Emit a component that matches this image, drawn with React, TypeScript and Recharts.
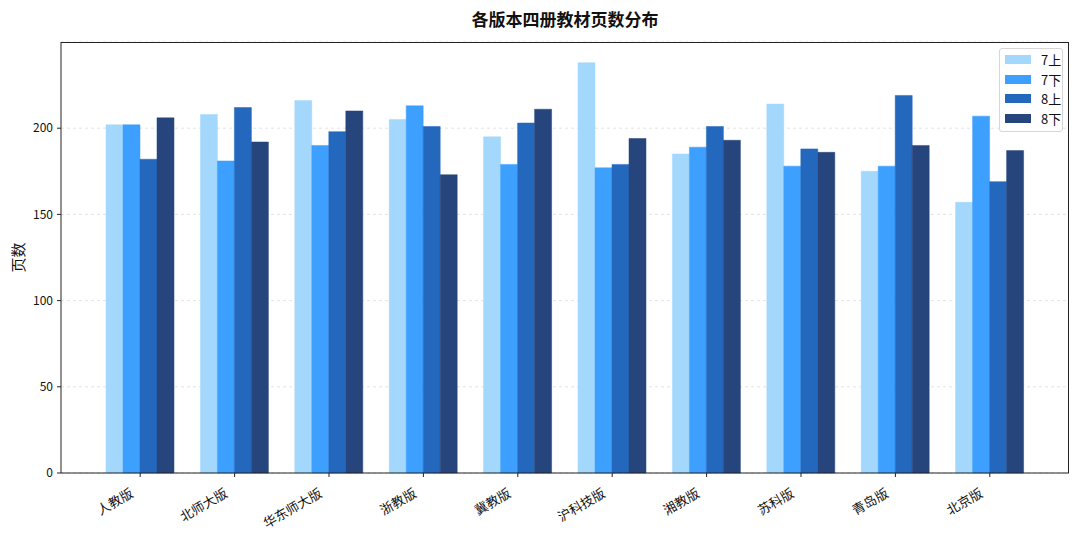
import React from "react";
import { Bar, BarChart, CartesianGrid, XAxis, YAxis } from "recharts";

// 各版本 x 四册 page counts
const EDITIONS = [
  "人教版",
  "北师大版",
  "华东师大版",
  "浙教版",
  "冀教版",
  "沪科技版",
  "湘教版",
  "苏科版",
  "青岛版",
  "北京版",
];

const G7_UP = [202, 208, 216, 205, 195, 238, 185, 214, 175, 157];
const G7_DOWN = [202, 181, 190, 213, 179, 177, 189, 178, 178, 207];
const G8_UP = [182, 212, 198, 201, 203, 179, 201, 188, 219, 169];
const G8_DOWN = [206, 192, 210, 173, 211, 194, 193, 186, 190, 187];

const Y_TICKS = [0, 50, 100, 150, 200];

const SERIES = [
  { key: "g7u", name: "7上", color: "#a3d8fc" },
  { key: "g7d", name: "7下", color: "#3d9ffe" },
  { key: "g8u", name: "8上", color: "#2468be" },
  { key: "g8d", name: "8下", color: "#27457d" },
];

const data = EDITIONS.map((name, i) => ({
  name,
  g7u: G7_UP[i],
  g7d: G7_DOWN[i],
  g8u: G8_UP[i],
  g8d: G8_DOWN[i],
}));

const FONT = '"Noto Sans CJK SC", "Noto Sans", sans-serif';

function EditionTick({ x, y, payload }: any) {
  return (
    <g transform={`translate(${x - 6},${y + 17})`}>
      <text
        textAnchor="end"
        transform="rotate(-30)"
        fontSize={13}
        fill="#111"
        fontFamily={FONT}
      >
        {payload.value}
      </text>
    </g>
  );
}

export default function App() {
  return (
    <div
      style={{
        position: "absolute",
        left: 0,
        top: 0,
        width: 1080,
        height: 535,
        background: "#fff",
        fontFamily: FONT,
      }}
    >
      <div
        style={{
          position: "absolute",
          left: 61,
          width: 1008,
          top: 6,
          textAlign: "center",
          fontSize: 17,
          fontWeight: 700,
          color: "#111",
        }}
      >
        各版本四册教材页数分布
      </div>

      <BarChart
        width={1080}
        height={535}
        data={data}
        margin={{ top: 42, right: 11, bottom: 0, left: 0 }}
        barGap={0}
        barSize={17}
      >
        <CartesianGrid
          vertical={false}
          stroke="#e4e4e4"
          strokeDasharray="3 3"
        />
        <XAxis
          dataKey="name"
          height={62}
          padding={{ left: 32, right: 32 }}
          tick={<EditionTick />}
          tickSize={4}
          tickMargin={2}
          interval={0}
          stroke="#222"
        />
        <YAxis
          width={61}
          domain={[0, 250]}
          ticks={Y_TICKS}
          tickSize={4}
          tickMargin={4}
          stroke="#222"
          tick={{ fontSize: 12, fill: "#111", fontFamily: FONT }}
          label={({ viewBox }: any) => {
            const cy = viewBox.y + viewBox.height / 2;
            return (
              <text
                x={17}
                y={cy}
                transform={`rotate(-90, 17, ${cy})`}
                textAnchor="middle"
                dominantBaseline="central"
                fontSize={15}
                fill="#111"
                fontFamily={FONT}
              >
                页数
              </text>
            );
          }}
        />
        {SERIES.map((s) => (
          <Bar
            key={s.key}
            dataKey={s.key}
            name={s.name}
            fill={s.color}
            stroke={s.color}
            strokeWidth={0.5}
            isAnimationActive={false}
          />
        ))}
      </BarChart>

      {/* plot frame (top & right spines) */}
      <div
        style={{
          position: "absolute",
          left: 61,
          top: 42,
          width: 1008,
          height: 431,
          borderTop: "1px solid #222",
          borderRight: "1px solid #222",
          boxSizing: "border-box",
          pointerEvents: "none",
        }}
      />

      <div
        style={{
          position: "absolute",
          left: 999,
          top: 48,
          width: 64,
          padding: "1px 0 3px 0",
          border: "1px solid #d6d6d6",
          borderRadius: 3,
          background: "rgba(255,255,255,0.9)",
          boxSizing: "border-box",
        }}
      >
        {SERIES.map((s) => (
          <div
            key={s.key}
            style={{
              display: "flex",
              alignItems: "center",
              height: 19.5,
              fontSize: 13,
              color: "#111",
            }}
          >
            <span
              style={{
                display: "inline-block",
                width: 26,
                height: 9,
                marginLeft: 5,
                marginRight: 10,
                background: s.color,
              }}
            />
            {s.name}
          </div>
        ))}
      </div>
    </div>
  );
}
